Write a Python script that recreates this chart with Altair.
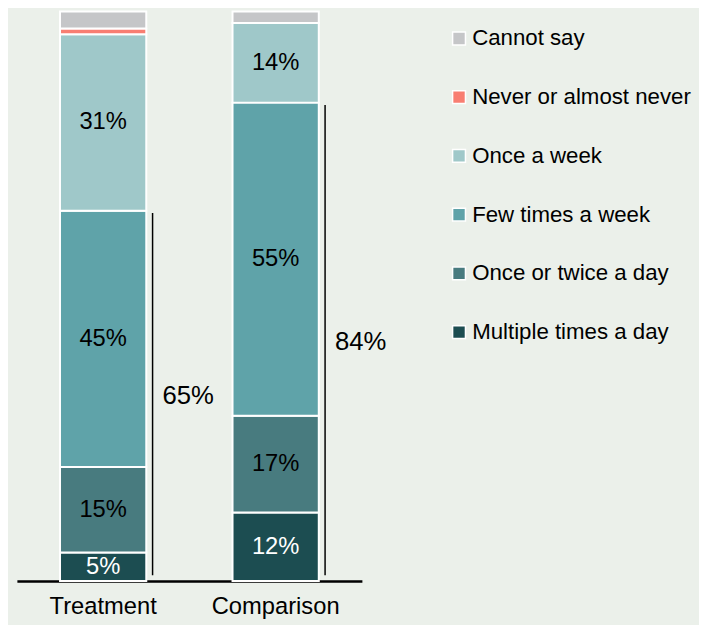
import altair as alt
import pandas as pd

groups = ["Treatment", "Comparison"]
categories = ["Multiple times a day", "Once or twice a day", "Few times a week",
              "Once a week", "Never or almost never", "Cannot say"]
treatment = [5, 15, 45, 31, 1, 3]
comparison = [12, 17, 55, 14, 0, 2]
colors = ["#1c4d51", "#487b7f", "#5fa3a9", "#9fc8c9", "#f87e72", "#c5c6c8"]
label_colors = ["white", "black", "black", "black", "black", "black"]
bracket_labels = ["65%", "84%"]
bracket_n = 3  # brackets cover the first three categories

FONT = "Liberation Sans"
BG = "#ebf0ea"

rows = []
for g, vals in zip(groups, [treatment, comparison]):
    cum = 0
    for i, (c, v) in enumerate(zip(categories, vals)):
        rows.append({"group": g, "cat": c, "value": v, "rank": i,
                     "mid": cum + v / 2, "label": f"{v}%" if v >= 5 else "",
                     "tcolor": label_colors[i]})
        cum += v
df = pd.DataFrame(rows)
df_bars = df[df["value"] > 0]

brk = []
for g, vals, lab in zip(groups, [treatment, comparison], bracket_labels):
    tot = sum(vals[:bracket_n])
    brk.append({"group": g, "lo": 1, "hi": tot - 0.4, "mid": tot / 2, "label": lab})
df_brk = pd.DataFrame(brk)

xenc = alt.X("group:N", sort=groups,
             scale=alt.Scale(paddingInner=0.5, paddingOuter=0.25),
             axis=alt.Axis(title=None, labelAngle=0, labelFontSize=24, labelFont=FONT,
                           labelColor="black", domainColor="black", domainWidth=2.5,
                           ticks=False, labelPadding=14))
yscale = alt.Scale(domain=[0, 100], nice=False)

bars = alt.Chart(df_bars).mark_bar(stroke="white", strokeWidth=2).encode(
    x=xenc,
    y=alt.Y("value:Q", stack="zero", scale=yscale, axis=None),
    color=alt.Color("cat:N", scale=alt.Scale(domain=categories[::-1], range=colors[::-1]),
                    legend=alt.Legend(orient="none", legendX=436, legendY=16, title=None,
                                      symbolType="square", symbolSize=169,
                                      symbolStrokeColor="white", symbolStrokeWidth=1.5,
                                      symbolOpacity=1, labelFontSize=22.5, labelFont=FONT,
                                      labelColor="black", rowPadding=36.4, labelOffset=2,
                                      labelLimit=400, padding=0)),
    order=alt.Order("rank:Q", sort="ascending"),
)

labels = alt.Chart(df).mark_text(fontSize=24, font=FONT, baseline="middle").encode(
    x=alt.X("group:N", sort=groups),
    y=alt.Y("mid:Q", scale=yscale),
    text="label:N",
    color=alt.Color("tcolor:N", scale=None),
)

rules = alt.Chart(df_brk).mark_rule(color="black", strokeWidth=1.5, xOffset=50).encode(
    x=alt.X("group:N", sort=groups),
    y=alt.Y("lo:Q", scale=yscale),
    y2="hi:Q",
)

blabels = alt.Chart(df_brk).mark_text(fontSize=26, font=FONT, baseline="middle",
                                      dx=86, color="black").encode(
    x=alt.X("group:N", sort=groups),
    y=alt.Y("mid:Q", scale=yscale),
    text="label:N",
)

chart = alt.layer(bars, labels, rules, blabels).properties(
    width=349, height=576,
    autosize=alt.AutoSizeParams(type="none"),
    padding={"left": 9, "top": 0, "right": 341, "bottom": 41},
    background=BG,
).configure_view(stroke=None)

chart.save("out.html", embed_options={"renderer": "svg", "actions": False})
